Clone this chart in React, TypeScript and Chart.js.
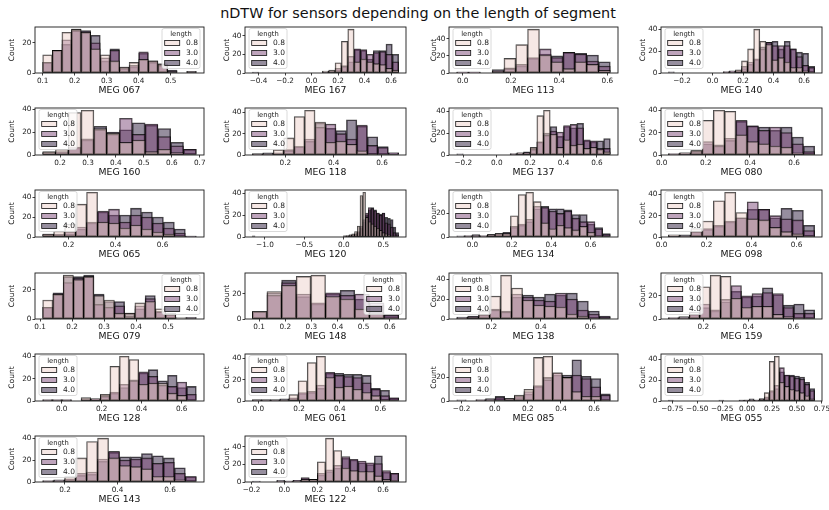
import React, { useEffect, useRef } from "react";
import { Chart, registerables } from "chart.js";

Chart.register(...registerables);

// ---------------- data ----------------
const FIG_TITLE = "nDTW for sensors depending on the length of segment";
const HUE_TITLE = "length";
const LENGTH_LEVELS = ["0.8", "3.0", "4.0"];
const Y_LABEL = "Count";

const SENSORS = [
  "MEG 067", "MEG 167", "MEG 113", "MEG 140",
  "MEG 160", "MEG 118", "MEG 137", "MEG 080",
  "MEG 065", "MEG 120", "MEG 134", "MEG 098",
  "MEG 079", "MEG 148", "MEG 138", "MEG 159",
  "MEG 128", "MEG 061", "MEG 085", "MEG 055",
  "MEG 143", "MEG 122",
];

const BIN_START = [
  0.1, -0.447, -0.025, -0.29,
  0.138, 0.063, -0.24, 0.03,
  0.09, -1.16, -0.08, 0.03,
  0.108, 0.074, 0.06, 0.045,
  -0.095, -0.03, -0.23, -0.79,
  0.115, -0.195,
];

const BIN_WIDTH = [
  0.03, 0.048, 0.049, 0.04,
  0.0458, 0.0433, 0.04, 0.051,
  0.0467, 0.035, 0.039, 0.05,
  0.032, 0.056, 0.0443, 0.0464,
  0.048, 0.045, 0.058, 0.0506,
  0.0418, 0.0494,
];

const COUNTS_08 = [
  [12, 15, 27, 29, 27, 16, 12, 8, 4, 7, 9, 8, 6, 1, 0, 1],
  [0, 0, 0, 0, 0, 0, 0, 0, 0, 0, 0, 2, 3, 11, 34, 47, 12, 15, 12, 10, 9, 5, 3],
  [1, 1, 0, 2, 17, 33, 51, 21, 13, 5, 13, 10, 3],
  [0, 0, 0, 0, 0, 0, 0, 0, 0, 1, 1, 3, 11, 22, 40, 29, 26, 12, 14, 10, 5, 5, 2, 1],
  [3, 5, 37, 39, 23, 19, 11, 13, 3, 5, 2, 0],
  [1, 1, 5, 16, 36, 42, 31, 12, 13, 10, 4, 1, 0, 0],
  [0, 0, 0, 0, 0, 0, 0, 0, 1, 2, 2, 7, 36, 41, 19, 7, 14, 9, 10, 6, 7, 5, 3],
  [1, 2, 4, 31, 40, 39, 18, 12, 10, 8, 7, 2, 1],
  [3, 6, 13, 33, 45, 15, 14, 9, 12, 8, 5, 3, 1, 0],
  [0, 0, 0, 0, 0, 0, 0, 0, 0, 0, 0, 0, 0, 0, 0, 0, 0, 0, 0, 0, 0, 0, 0, 0, 0, 0, 0, 0, 0, 0, 0, 0, 0,
    1, 1, 2, 3, 5, 10, 38, 41, 18, 14, 12, 10, 8, 6, 4, 3, 2, 1, 0, 0],
  [0, 1, 1, 1, 2, 3, 3, 18, 36, 38, 30, 12, 7, 10, 8, 6, 9, 4, 1, 0],
  [2, 1, 8, 15, 34, 42, 23, 17, 16, 9, 5, 3, 1],
  [13, 17, 30, 27, 29, 16, 13, 4, 4, 11, 12, 7, 4, 1, 0],
  [6, 22, 27, 34, 35, 18, 16, 8, 5, 1],
  [1, 2, 8, 23, 44, 31, 19, 14, 13, 12, 5, 3, 1, 0],
  [1, 1, 6, 28, 38, 37, 18, 10, 11, 11, 4, 2, 1, 0],
  [1, 1, 1, 0, 3, 2, 6, 31, 40, 37, 15, 16, 16, 7, 5, 0],
  [1, 1, 1, 1, 6, 19, 36, 42, 22, 13, 14, 11, 8, 5, 1, 0],
  [0, 0, 1, 1, 0, 2, 5, 10, 37, 38, 24, 20, 8, 4, 4, 1],
  [0, 0, 0, 0, 0, 0, 0, 0, 0, 0, 0, 0, 0, 0, 0, 1, 1, 1, 2, 8, 38, 43, 18, 14, 11, 10, 8, 5, 2],
  [1, 1, 5, 22, 37, 40, 22, 15, 14, 12, 5, 5, 2, 0],
  [0, 0, 0, 1, 1, 1, 3, 3, 23, 50, 36, 16, 13, 12, 12, 7, 3, 2],
];

const COUNTS_30 = [
  [7, 15, 22, 28, 27, 20, 10, 15, 3, 5, 14, 8, 5, 1, 0, 1],
  [0, 0, 0, 0, 0, 0, 0, 0, 0, 0, 0, 1, 2, 5, 7, 18, 26, 25, 20, 22, 23, 20, 12],
  [1, 1, 0, 2, 5, 10, 18, 28, 18, 24, 22, 14, 8],
  [0, 0, 0, 0, 0, 0, 0, 0, 0, 1, 2, 2, 6, 10, 13, 22, 28, 25, 25, 25, 22, 15, 7, 5],
  [2, 3, 7, 14, 22, 18, 32, 18, 27, 16, 8, 5],
  [1, 1, 2, 5, 8, 15, 26, 29, 20, 15, 28, 9, 7, 2],
  [0, 0, 0, 0, 0, 0, 0, 0, 1, 1, 2, 5, 12, 18, 22, 21, 27, 28, 25, 14, 13, 6, 6],
  [1, 1, 3, 12, 8, 15, 31, 26, 22, 25, 20, 10, 3],
  [3, 3, 5, 10, 15, 26, 28, 15, 22, 20, 14, 9, 4, 1],
  [0, 0, 0, 0, 0, 0, 0, 0, 0, 0, 0, 0, 0, 0, 0, 0, 0, 0, 0, 0, 0, 0, 0, 0, 0, 0, 0, 0, 0, 0, 0, 0, 0,
    0, 1, 1, 2, 3, 5, 10, 16, 22, 27, 26, 24, 22, 20, 22, 13, 12, 9, 4, 2],
  [0, 1, 1, 1, 2, 3, 3, 9, 11, 15, 26, 25, 22, 20, 22, 16, 13, 13, 7, 2],
  [1, 1, 5, 8, 11, 15, 18, 33, 26, 20, 17, 16, 6],
  [8, 17, 25, 28, 29, 10, 8, 9, 2, 9, 14, 5, 3, 0, 1],
  [6, 19, 29, 20, 13, 21, 19, 20, 13, 3],
  [1, 2, 4, 9, 7, 25, 22, 19, 18, 26, 20, 9, 5, 2],
  [1, 1, 4, 13, 8, 17, 29, 20, 22, 23, 22, 10, 5, 5],
  [1, 1, 1, 0, 2, 2, 4, 8, 15, 18, 26, 22, 14, 13, 17, 6],
  [1, 1, 1, 1, 3, 8, 9, 15, 27, 24, 23, 22, 17, 11, 5, 3],
  [0, 0, 1, 1, 3, 2, 4, 8, 13, 18, 24, 20, 22, 19, 12, 5],
  [0, 0, 0, 0, 0, 0, 0, 0, 0, 0, 0, 0, 0, 0, 1, 1, 1, 1, 2, 4, 10, 15, 32, 25, 24, 22, 21, 16, 10],
  [1, 1, 3, 8, 9, 21, 28, 20, 21, 22, 17, 18, 8, 5],
  [0, 0, 0, 1, 1, 2, 5, 3, 10, 14, 19, 29, 26, 24, 22, 21, 13, 10],
];

const COUNTS_40 = [
  [7, 15, 19, 29, 28, 25, 8, 16, 4, 4, 13, 7, 6, 2, 0, 1],
  [1, 0, 0, 0, 0, 0, 0, 0, 0, 0, 0, 1, 2, 3, 8, 12, 25, 24, 15, 24, 24, 31, 20],
  [1, 1, 0, 4, 6, 8, 17, 22, 20, 24, 23, 21, 13],
  [1, 0, 0, 0, 0, 0, 0, 0, 0, 1, 1, 2, 4, 8, 12, 24, 28, 29, 22, 29, 22, 19, 18, 6],
  [2, 2, 6, 13, 25, 20, 22, 28, 26, 23, 11, 5],
  [1, 2, 1, 4, 8, 13, 30, 25, 23, 33, 27, 17, 8, 2],
  [1, 0, 0, 0, 0, 0, 0, 0, 1, 2, 3, 6, 12, 20, 26, 17, 26, 25, 29, 13, 12, 13, 15],
  [1, 2, 4, 10, 9, 13, 30, 26, 25, 22, 25, 16, 8],
  [2, 2, 3, 8, 14, 25, 22, 22, 29, 25, 20, 15, 8, 1],
  [1, 0, 0, 0, 0, 0, 0, 0, 0, 0, 0, 0, 0, 0, 0, 0, 0, 0, 0, 0, 0, 0, 0, 0, 0, 0, 0, 0, 0, 0, 0, 0, 0,
    1, 1, 2, 2, 3, 4, 8, 14, 20, 25, 27, 25, 22, 21, 22, 18, 17, 16, 9, 4],
  [1, 1, 2, 1, 2, 3, 4, 8, 10, 13, 24, 26, 24, 24, 23, 19, 19, 11, 8, 3],
  [1, 2, 5, 7, 10, 14, 18, 26, 26, 18, 27, 25, 11],
  [8, 18, 29, 29, 30, 17, 12, 12, 4, 7, 16, 5, 3, 0, 1],
  [6, 21, 31, 18, 12, 20, 23, 16, 11, 4],
  [2, 3, 5, 10, 8, 22, 24, 22, 25, 24, 26, 18, 8, 3],
  [1, 2, 4, 10, 7, 15, 24, 19, 20, 27, 21, 12, 13, 8],
  [1, 1, 1, 0, 1, 2, 5, 7, 12, 19, 25, 28, 18, 23, 12, 13],
  [1, 1, 1, 2, 2, 7, 8, 12, 26, 26, 25, 25, 24, 12, 10, 3],
  [1, 0, 1, 2, 4, 2, 3, 6, 12, 20, 22, 22, 35, 21, 19, 6],
  [1, 0, 0, 0, 0, 0, 0, 0, 0, 0, 1, 0, 0, 0, 1, 1, 2, 1, 2, 3, 9, 12, 28, 25, 25, 24, 23, 18, 12],
  [1, 2, 2, 6, 7, 19, 27, 23, 23, 26, 24, 22, 13, 5],
  [1, 0, 0, 2, 1, 2, 4, 3, 8, 12, 16, 27, 25, 22, 20, 30, 11, 10],
];

const X_TICKS = [
  [0.1, 0.2, 0.3, 0.4, 0.5],
  [-0.4, -0.2, 0, 0.2, 0.4, 0.6],
  [0, 0.2, 0.4, 0.6],
  [-0.2, 0, 0.2, 0.4, 0.6],
  [0.2, 0.3, 0.4, 0.5, 0.6, 0.7],
  [0.2, 0.4, 0.6],
  [-0.2, 0, 0.2, 0.4, 0.6],
  [0, 0.2, 0.4, 0.6],
  [0.2, 0.4, 0.6],
  [-1, -0.5, 0, 0.5],
  [0, 0.2, 0.4, 0.6],
  [0, 0.2, 0.4, 0.6],
  [0.1, 0.2, 0.3, 0.4, 0.5],
  [0.1, 0.2, 0.3, 0.4, 0.5, 0.6],
  [0.2, 0.4, 0.6],
  [0.2, 0.4, 0.6],
  [0, 0.2, 0.4, 0.6],
  [0, 0.2, 0.4, 0.6],
  [-0.2, 0, 0.2, 0.4, 0.6],
  [-0.75, -0.5, -0.25, 0, 0.25, 0.5, 0.75],
  [0.2, 0.4, 0.6],
  [-0.2, 0, 0.2, 0.4, 0.6],
];

const X_TICK_DECIMALS = [1, 1, 1, 1, 1, 1, 1, 1, 1, 1, 1, 1, 1, 1, 1, 1, 1, 1, 1, 2, 1, 1];
const Y_TICKS = [0, 20, 40, 60];

// ---------------- layout / style ----------------
const LEGEND_ON_RIGHT = ["MEG 067", "MEG 079", "MEG 148"];
const COL_LEFT = [35, 245, 449, 661];
const COL_RIGHT = [204, 406, 618, 822];
const ROW_TOP = [27, 108, 190, 273, 354, 436];
const ROW_BOTTOM = [73, 155, 237, 319, 401, 482];
const COUNT_GAP = [23, 18, 15, 18];
const PAD_L = 32;
const PAD_T = 6;
const PAD_R = 14;
const AXIS_H = 24;
const FONT = "'DejaVu Sans', 'Liberation Sans', sans-serif";
const HUE_RGB = ["237,209,203", "126,73,122", "45,30,62"];
const FILL_ALPHA = 0.5;
const EDGE = "rgba(0,0,0,0.72)";

function fmtTick(v: number, dec: number): string {
  const s = Math.abs(v).toFixed(dec);
  return (v < -1e-9 ? "\u2212" : "") + s;
}

const panelDecor = {
  id: "panelDecor",
  afterDatasetsDraw(chart: any, _args: any, opts: any) {
    const { ctx, chartArea: ca } = chart;
    ctx.save();
    // spines
    ctx.strokeStyle = "#1a1a1a";
    ctx.lineWidth = 0.9;
    ctx.strokeRect(ca.left, ca.top, ca.right - ca.left, ca.bottom - ca.top);
    // legend
    const w = 38;
    const h = 40;
    const x = opts.side === "right" ? ca.right - 4 - w : ca.left + 4;
    const y = ca.top + 1.5;
    ctx.beginPath();
    const r = 2;
    ctx.moveTo(x + r, y);
    ctx.lineTo(x + w - r, y);
    ctx.arcTo(x + w, y, x + w, y + r, r);
    ctx.lineTo(x + w, y + h - r);
    ctx.arcTo(x + w, y + h, x + w - r, y + h, r);
    ctx.lineTo(x + r, y + h);
    ctx.arcTo(x, y + h, x, y + h - r, r);
    ctx.lineTo(x, y + r);
    ctx.arcTo(x, y, x + r, y, r);
    ctx.closePath();
    ctx.fillStyle = "rgba(255,255,255,0.8)";
    ctx.fill();
    ctx.strokeStyle = "#d0d0d0";
    ctx.lineWidth = 0.8;
    ctx.stroke();

    ctx.fillStyle = "#222";
    ctx.textBaseline = "middle";
    ctx.textAlign = "center";
    ctx.font = `6.8px ${FONT}`;
    ctx.fillText(HUE_TITLE, x + w / 2, y + 5.5);

    ctx.textAlign = "left";
    ctx.font = `7.5px ${FONT}`;
    LENGTH_LEVELS.forEach((lab, i) => {
      const cy = y + 14.5 + 10 * i;
      ctx.fillStyle = `rgba(${HUE_RGB[i]},${FILL_ALPHA})`;
      ctx.fillRect(x + 2.7, cy - 2.5, 15, 5);
      ctx.strokeStyle = "#111";
      ctx.lineWidth = 0.8;
      ctx.strokeRect(x + 2.7, cy - 2.5, 15, 5);
      ctx.fillStyle = "#222";
      ctx.fillText(lab, x + 24, cy + 0.3);
    });
    ctx.restore();
  },
};

function Panel({ idx }: { idx: number }) {
  const ref = useRef<HTMLCanvasElement>(null);
  const row = Math.floor(idx / 4);
  const col = idx % 4;
  const boxL = COL_LEFT[col];
  const boxR = COL_RIGHT[col];
  const boxT = ROW_TOP[row];
  const boxB = ROW_BOTTOM[row];
  const cw = boxR - boxL + PAD_L + PAD_R;
  const ch = boxB - boxT + PAD_T + AXIS_H;

  useEffect(() => {
    const canvas = ref.current;
    if (!canvas) return;
    const start = BIN_START[idx];
    const width = BIN_WIDTH[idx];
    const series = [COUNTS_08[idx], COUNTS_30[idx], COUNTS_40[idx]];
    const n = series[0].length;
    const end = start + n * width;
    const range = end - start;
    const xMin = start - 0.05 * range;
    const xMax = end + 0.05 * range;
    let maxCount = 0;
    series.forEach((s) => s.forEach((v) => { if (v > maxCount) maxCount = v; }));
    const yMax = maxCount * 1.05;
    const ticks = X_TICKS[idx];
    const dec = X_TICK_DECIMALS[idx];
    const titlePad = PAD_L - COUNT_GAP[col] - 4.5;

    const datasets = series.map((counts, si) => ({
      label: LENGTH_LEVELS[si],
      data: counts.map((c, i) => ({ x: start + (i + 0.5) * width, y: c })),
      backgroundColor: `rgba(${HUE_RGB[si]},${FILL_ALPHA})`,
      borderColor: EDGE,
      borderWidth: 0.9,
      borderSkipped: false,
      grouped: false,
      barPercentage: 1,
      categoryPercentage: 1,
    }));

    const gridOpts = {
      display: true,
      drawOnChartArea: false,
      drawTicks: true,
      tickLength: 2.5,
      tickWidth: 0.8,
      tickColor: "#111",
      offset: false,
    };

    const chart = new Chart(canvas, {
      type: "bar",
      data: { datasets } as any,
      plugins: [panelDecor],
      options: {
        responsive: false,
        animation: false,
        events: [],
        devicePixelRatio: 1,
        layout: { padding: { left: 0, top: PAD_T, right: PAD_R, bottom: 0 } },
        plugins: {
          legend: { display: false },
          tooltip: { enabled: false },
          title: { display: false },
          panelDecor: { side: LEGEND_ON_RIGHT.includes(SENSORS[idx]) ? "right" : "left" },
        } as any,
        scales: {
          x: {
            type: "linear",
            min: xMin,
            max: xMax,
            offset: false,
            grid: gridOpts,
            border: { display: false },
            ticks: {
              autoSkip: false,
              maxRotation: 0,
              minRotation: 0,
              padding: 1.5,
              color: "#222",
              font: { family: FONT, size: 7.3 },
              callback: (v: any) => fmtTick(Number(v), dec),
            },
            title: {
              display: true,
              text: SENSORS[idx],
              color: "#111",
              font: { family: FONT, size: 9.3 },
              padding: { top: 0, bottom: 1 },
            },
            afterBuildTicks: (s: any) => {
              s.ticks = ticks.filter((v) => v >= xMin && v <= xMax).map((v) => ({ value: v }));
            },
            afterFit: (s: any) => {
              s.height = AXIS_H;
              s.paddingLeft = 0;
              s.paddingRight = 0;
              s.paddingTop = 0;
              s.paddingBottom = 0;
            },
          },
          y: {
            type: "linear",
            min: 0,
            max: yMax,
            grid: gridOpts,
            border: { display: false },
            ticks: {
              padding: 1,
              color: "#222",
              font: { family: FONT, size: 7.3 },
              callback: (v: any) => String(Math.round(Number(v))),
            },
            title: {
              display: true,
              text: Y_LABEL,
              color: "#111",
              font: { family: FONT, size: 7.5 },
              padding: { top: titlePad, bottom: 0 },
            },
            afterBuildTicks: (s: any) => {
              s.ticks = Y_TICKS.filter((v) => v <= yMax).map((v) => ({ value: v }));
            },
            afterFit: (s: any) => {
              s.width = PAD_L;
              s.paddingLeft = 0;
              s.paddingRight = 0;
              s.paddingTop = 0;
              s.paddingBottom = 0;
            },
          },
        },
      } as any,
    });
    return () => chart.destroy();
  }, [idx]);

  return (
    <canvas
      ref={ref}
      width={cw}
      height={ch}
      style={{
        position: "absolute",
        left: boxL - PAD_L,
        top: boxT - PAD_T,
        width: cw,
        height: ch,
      }}
    />
  );
}

export default function App() {
  return (
    <div
      style={{
        position: "fixed",
        left: 0,
        top: 0,
        width: 829,
        height: 510,
        background: "#ffffff",
        overflow: "hidden",
      }}
    >
      <div
        style={{
          position: "absolute",
          left: 0,
          top: 5,
          width: 836,
          textAlign: "center",
          fontFamily: FONT,
          fontSize: 14.4,
          lineHeight: "16px",
          color: "#111",
          whiteSpace: "nowrap",
        }}
      >
        {FIG_TITLE}
      </div>
      {SENSORS.map((_, i) => (
        <Panel key={i} idx={i} />
      ))}
    </div>
  );
}
